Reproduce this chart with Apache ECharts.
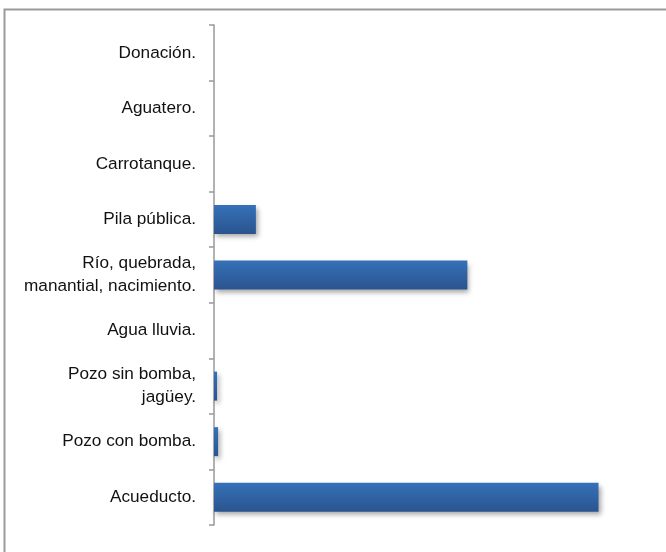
<!DOCTYPE html>
<html><head><meta charset="utf-8">
<script src="https://cdn.jsdelivr.net/npm/echarts@6/dist/echarts.min.js"></script>
<style>html,body{margin:0;padding:0;background:#fff;}#c{width:666px;height:552px;}</style>
</head><body><div id="c"></div>
<script>
const categories = ["Acueducto.", "Pozo con bomba.", "Pozo sin bomba,\njagüey.", "Agua lluvia.", "Río, quebrada,\nmanantial, nacimiento.", "Pila pública.", "Carrotanque.", "Aguatero.", "Donación."];
const values = [56.0, 0.6, 0.45, 0, 36.9, 6.1, 0, 0, 0];

const chart = echarts.init(document.getElementById('c'));
chart.setOption({
  animation: false,
  backgroundColor: '#fff',
  graphic: [{
    type: 'rect', shape: {x: 4.5, y: 9.5, width: 720, height: 620},
    style: {fill: 'none', stroke: '#9a9a9a', lineWidth: 2}, silent: true
  }],
  grid: {left: 214, right: 40, top: 25, bottom: 27, containLabel: false},
  xAxis: {type: 'value', min: 0, max: 60, show: false, splitLine: {show: false}},
  yAxis: {
    type: 'category', data: categories, offset: 2,
    axisLine: {show: true, lineStyle: {color: '#999', width: 1.5}},
    axisTick: {show: true, length: 5, lineStyle: {color: '#999', width: 1.5}},
    axisLabel: {margin: 16, color: '#111', fontFamily: 'Liberation Sans, Arial, sans-serif', fontSize: 17.2, lineHeight: 23, align: 'right'}
  },
  series: [{
    type: 'bar', data: values, barWidth: 29,
    itemStyle: {
      color: new echarts.graphic.LinearGradient(0, 0, 0, 1, [{offset: 0, color: '#3671B8'}, {offset: 1, color: '#2A548F'}]),
      shadowColor: 'rgba(0,0,0,0.35)', shadowBlur: 5, shadowOffsetX: 2, shadowOffsetY: 3
    }
  }]
});
</script></body></html>
